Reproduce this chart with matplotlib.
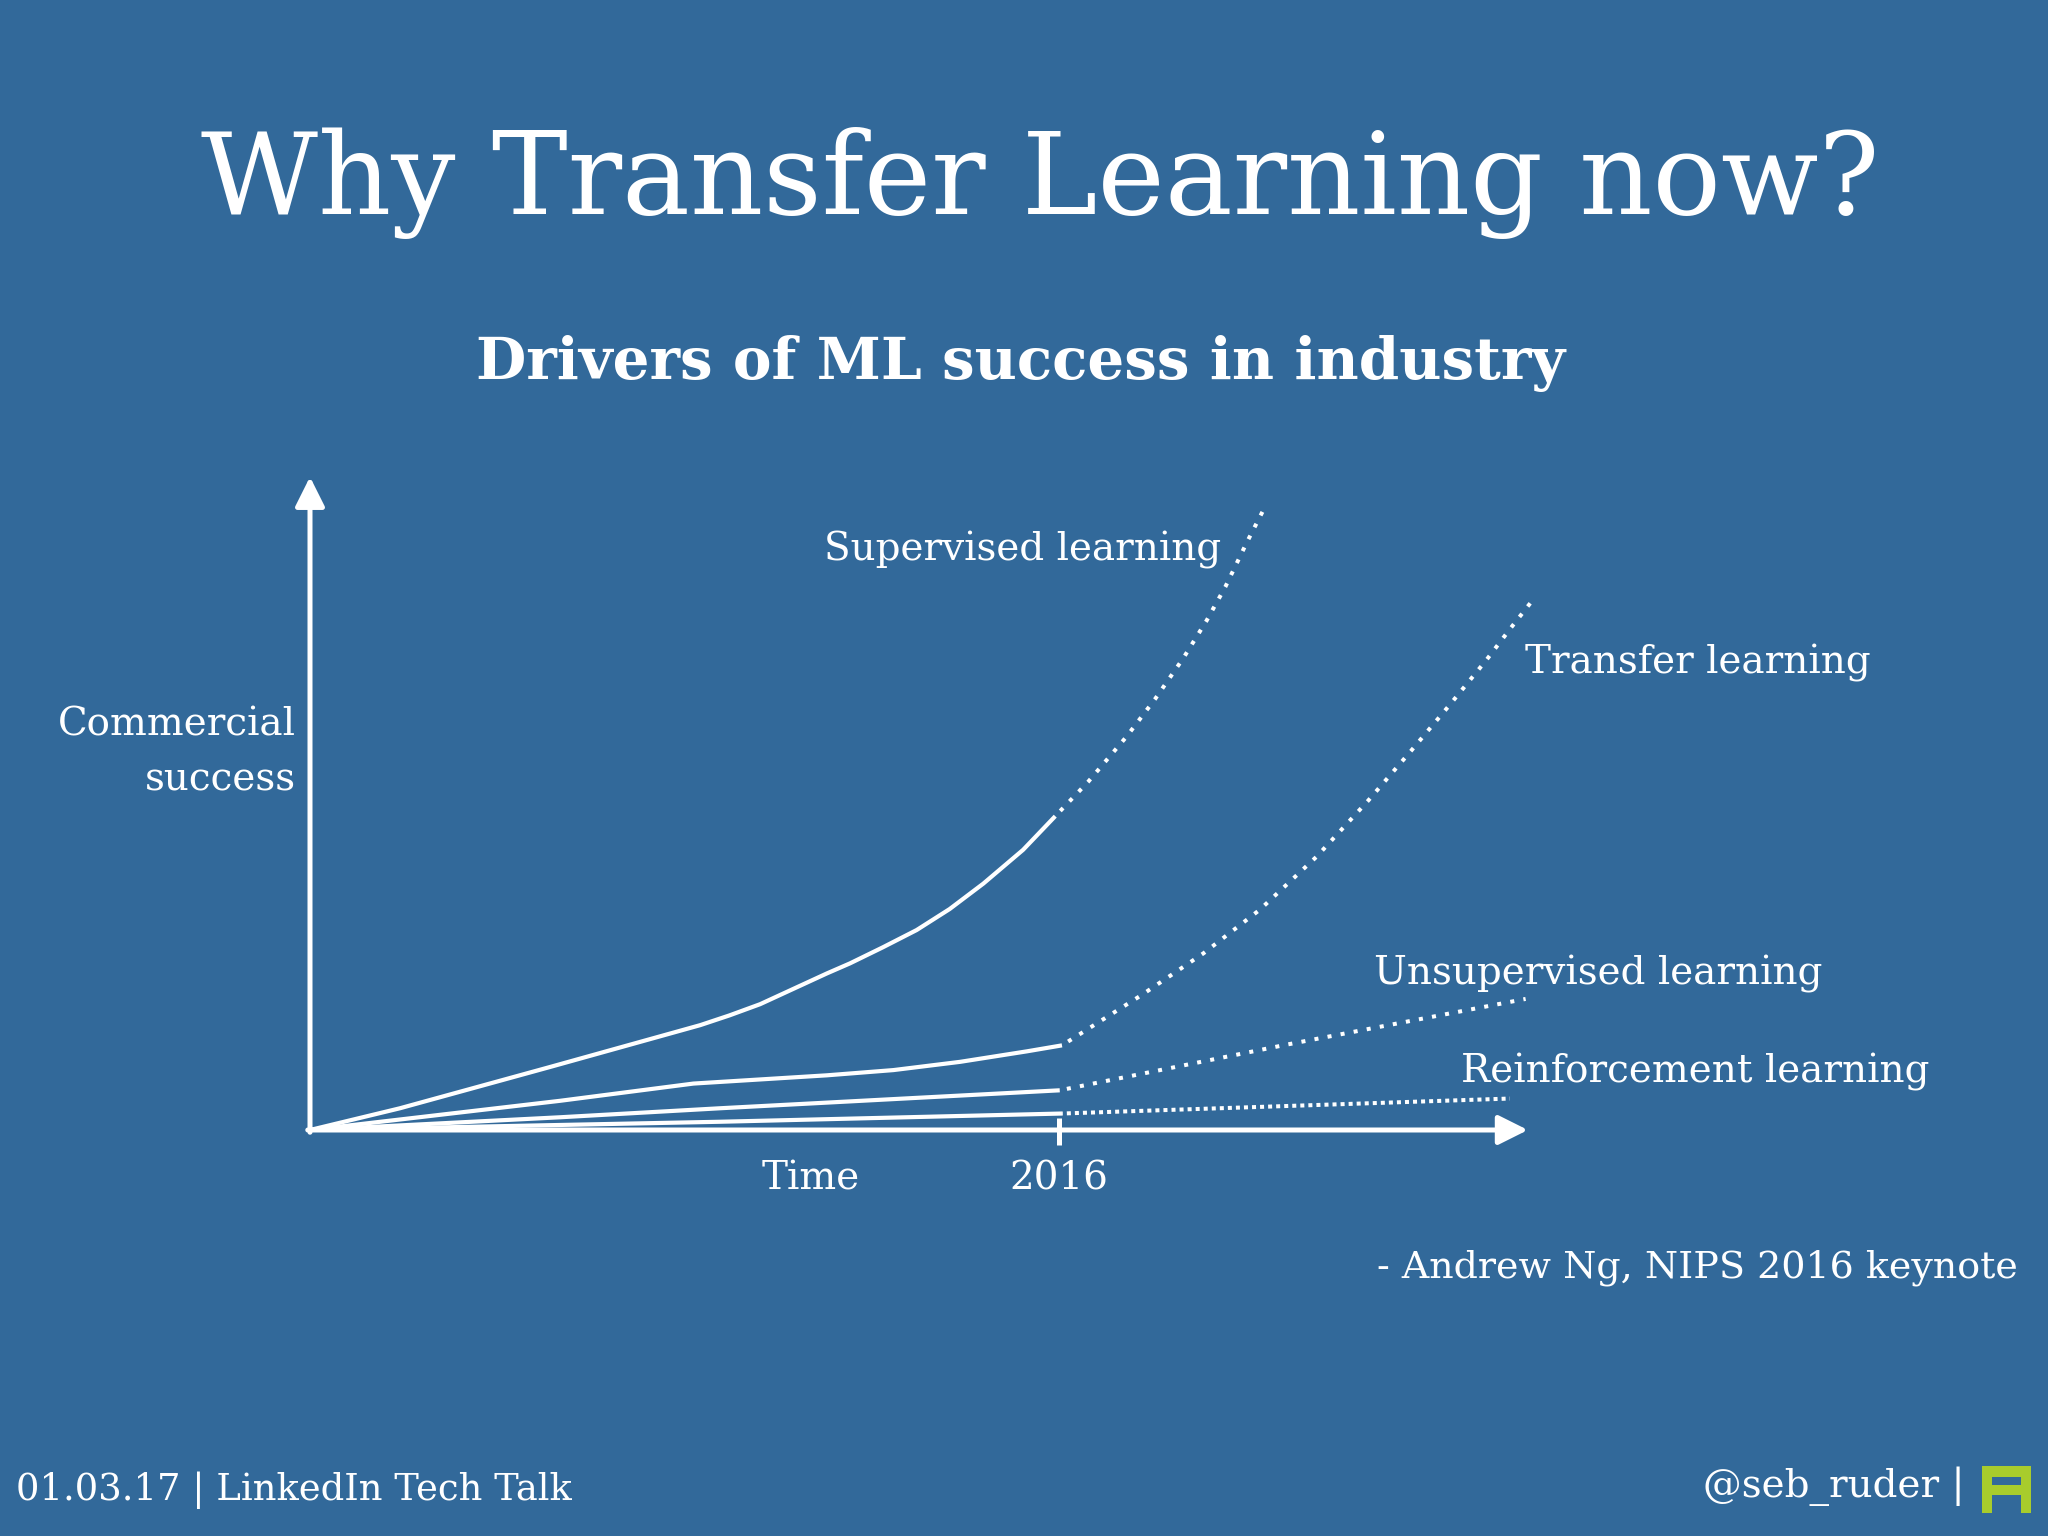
import numpy as np
import matplotlib
matplotlib.use('Agg')
import matplotlib.pyplot as plt
from matplotlib.patches import Rectangle

plt.rcParams['font.family'] = ['DejaVu Serif']

BG = '#32699a'
LOGO = '#a8cc2c'

# data (time units: 2016 = 1.0, success in same arbitrary units)
sup_x = [0, 0.12, 0.32, 0.521, 0.56, 0.601, 0.690, 0.721, 0.765, 0.810, 0.854, 0.899, 0.952, 0.995]
sup_y = [0, 0.029, 0.084, 0.140, 0.153, 0.168, 0.209, 0.2225, 0.244, 0.267, 0.295, 0.329, 0.374, 0.419]
sup_fx = [0.995, 1.039, 1.090, 1.128, 1.166, 1.197, 1.222, 1.251, 1.273]
sup_fy = [0.419, 0.465, 0.525, 0.575, 0.630, 0.680, 0.725, 0.785, 0.828]

tr_x = [0, 0.334, 0.512, 0.690, 0.779, 0.868, 0.957, 1.004]
tr_y = [0, 0.039, 0.062, 0.073, 0.080, 0.091, 0.105, 0.113]
tr_fx = [1.004, 1.110, 1.193, 1.268, 1.344, 1.413, 1.469, 1.522, 1.571, 1.603, 1.636]
tr_fy = [0.113, 0.180, 0.236, 0.294, 0.365, 0.440, 0.505, 0.568, 0.628, 0.670, 0.712]

un_x = [0, 0.334, 0.547, 1.001]
un_y = [0, 0.017, 0.029, 0.053]
un_fx = [1.001, 1.304, 1.623]
un_fy = [0.053, 0.114, 0.175]

rl_x = [0, 0.547, 1.004]
rl_y = [0, 0.011, 0.022]
rl_fx = [1.004, 1.602]
rl_fy = [0.022, 0.042]

tick_x = [1.0]
tick_labels = ['2016']

W, H = 2048, 1536
fig = plt.figure(figsize=(20.48, 15.36), dpi=100, facecolor=BG)
ax = fig.add_axes([0, 0, 1, 1])
ax.set_facecolor(BG)
ax.set_xlim(-310/749, (W-310)/749)
ax.set_ylim(-(H-1130)/749, 1130/749)
ax.axis('off')

def fx(px):
    return px / W

def fy(py):
    return 1 - py / H

# axes arrows
arr = dict(arrowstyle='-|>,head_length=0.6,head_width=0.3', lw=3.6, color='white',
           mutation_scale=30, shrinkA=0, shrinkB=0)
ax.annotate('', xy=(0, 0.872), xytext=(0, -0.003), arrowprops=arr)
ax.annotate('', xy=(1.626, 0), xytext=(-0.003, 0), arrowprops=arr)
for t in tick_x:
    ax.plot([t, t], [-0.020, 0.016], color='white', lw=3.6, solid_capstyle='butt')

solid = dict(color='white', lw=3.0, solid_capstyle='butt', solid_joinstyle='round')
ax.plot(sup_x, sup_y, **solid)
ax.plot(tr_x, tr_y, **solid)
ax.plot(un_x, un_y, **solid)
ax.plot(rl_x, rl_y, **solid)

dot = dict(color='white', lw=2.9, dash_capstyle='butt')
ax.plot(sup_fx, sup_fy, linestyle=(1.5, (1, 2.3)), **dot)
ax.plot(tr_fx, tr_fy, linestyle=(1.5, (1, 2.3)), **dot)
ax.plot(un_fx, un_fy, linestyle=(1.5, (1, 2.3)), **dot)
ax.plot(rl_fx, rl_fy, linestyle=(0.8, (1, 1.0)), **dot)

lab = dict(color='white', fontsize=28, va='center')
ax.text(1.216, 0.774, 'Supervised learning', ha='right', **lab)
ax.text(1.622, 0.623, 'Transfer learning', ha='left', **lab)
ax.text(1.4206, 0.208, 'Unsupervised learning', ha='left', **lab)
ax.text(1.537, 0.077, 'Reinforcement learning', ha='left', **lab)
ax.text(0.668, -0.065, 'Time', ha='center', **lab)
for t, s in zip(tick_x, tick_labels):
    ax.text(t, -0.065, s, ha='center', **lab)
ax.text(-0.019, 0.504, 'Commercial\nsuccess', ha='right', multialignment='right',
        linespacing=1.62, **lab)

# titles and footer
fig.text(fx(1040), fy(183), 'Why Transfer Learning now?', color='white', fontsize=82,
         ha='center', va='center')
fig.text(fx(1021), fy(363), 'Drivers of ML success in industry', color='white',
         fontsize=41.8, fontweight='bold', ha='center', va='center')
fig.text(fx(2018), fy(1268), '- Andrew Ng, NIPS 2016 keynote', color='white',
         fontsize=27.4, ha='right', va='center')
fig.text(fx(16), fy(1490), '01.03.17 | LinkedIn Tech Talk', color='white',
         fontsize=26.6, ha='left', va='center')
fig.text(fx(1965), fy(1486), '@seb_ruder |', color='white',
         fontsize=28, ha='right', va='center')

# logo
x0, y0 = 1982, 1466
for (x, y, w, h) in [(0, 0, 10, 47), (39, 0, 10, 47), (0, 0, 49, 10.5), (0, 19, 49, 10)]:
    fig.patches.append(Rectangle((fx(x0 + x), fy(y0 + y + h)), w / W, h / H,
                                 transform=fig.transFigure, color=LOGO, lw=0))

fig.savefig('out.png', dpi=100, facecolor=BG)
